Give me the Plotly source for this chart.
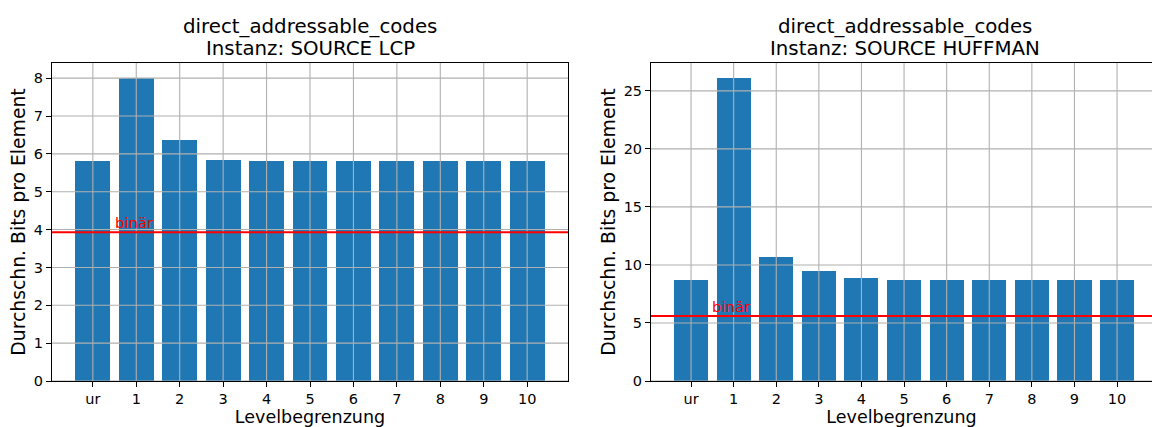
import plotly.graph_objects as go

categories = ["ur", "1", "2", "3", "4", "5", "6", "7", "8", "9", "10"]
lcp_values = [5.81, 8.0, 6.36, 5.84, 5.81, 5.81, 5.81, 5.81, 5.81, 5.81, 5.81]
huffman_values = [8.72, 26.15, 10.70, 9.50, 8.90, 8.72, 8.72, 8.72, 8.72, 8.72, 8.72]
lcp_binary = 3.93
huffman_binary = 5.6
title_line1 = ["direct_addressable_codes", "direct_addressable_codes"]
title_line2 = ["Instanz: SOURCE LCP", "Instanz: SOURCE HUFFMAN"]
lcp_yticks = [0, 1, 2, 3, 4, 5, 6, 7, 8]
huffman_yticks = [0, 5, 10, 15, 20, 25]
xlabel = "Levelbegrenzung"
ylabel = "Durchschn. Bits pro Element"
binary_label = "binär"

W, H = 1152, 427
FONT = "DejaVu Sans"
BAR = "#1f77b4"
GRID = "#b0b0b0"

panels = [
    dict(vals=lcp_values, binv=lcp_binary, yticks=lcp_yticks, yr=[0, 8.4],
         xd=[52 / W, 568 / W], xr=[-0.94, 10.94], mirror_y=True, tc=(52 + 568) / 2 / W),
    dict(vals=huffman_values, binv=huffman_binary, yticks=huffman_yticks, yr=[0, 27.4],
         xd=[651 / W, 1.0], xr=[-0.94, 10.82], mirror_y=False, tc=(651 + 1158) / 2 / W),
]
yd = [(H - 381) / H, (H - 63) / H]

fig = go.Figure()
shapes = []
annotations = []
for i, p in enumerate(panels):
    n = "" if i == 0 else str(i + 1)
    xa = "x" + n
    ya = "y" + n
    fig.add_trace(go.Bar(x=categories, y=p["vals"], marker=dict(color=BAR, line=dict(width=0)),
                         width=0.8, xaxis=xa, yaxis=ya, showlegend=False))
    axis_common = dict(showgrid=False, zeroline=False, showline=True, linecolor="black",
                       linewidth=1, ticks="outside", ticklen=5, tickwidth=1, tickcolor="black",
                       tickfont=dict(family=FONT, size=14.5, color="black"))
    fig.update_layout(**{
        ("xaxis" + n): dict(domain=p["xd"], range=p["xr"], type="category", anchor=ya,
                            mirror=True, title=dict(text=xlabel, font=dict(family=FONT, size=17.5, color="black"), standoff=2),
                            automargin=False, **axis_common),
        ("yaxis" + n): dict(domain=yd, range=p["yr"], anchor=xa, tickvals=p["yticks"],
                            mirror=p["mirror_y"],
                            title=dict(text=ylabel, font=dict(family=FONT, size=18.8, color="black"), standoff=3),
                            automargin=False, **axis_common),
    })
    # grid lines drawn over bars (matplotlib style)
    for c in categories:
        shapes.append(dict(type="line", xref=xa, yref=ya + " domain", x0=c, x1=c, y0=0, y1=1,
                           line=dict(color=GRID, width=1.1), layer="above"))
    for t in p["yticks"]:
        shapes.append(dict(type="line", xref=xa + " domain", yref=ya, x0=0, x1=1, y0=t, y1=t,
                           line=dict(color=GRID, width=1.1), layer="above"))
    shapes.append(dict(type="line", xref=xa + " domain", yref=ya, x0=0, x1=1, y0=p["binv"], y1=p["binv"],
                       line=dict(color="red", width=2), layer="above"))
    annotations.append(dict(x=0.5, y=p["binv"], xref=xa, yref=ya, text=binary_label, showarrow=False,
                            xanchor="left", yanchor="bottom", yshift=-1, xshift=-2,
                            font=dict(family=FONT, size=14.8, color="red")))
    annotations.append(dict(x=p["tc"], y=yd[1], xref="paper", yref="paper",
                            text=title_line2[i], showarrow=False, xanchor="center", yanchor="bottom", yshift=1,
                            font=dict(family=FONT, size=19.8, color="black")))
    annotations.append(dict(x=p["tc"], y=yd[1], xref="paper", yref="paper",
                            text=title_line1[i], showarrow=False, xanchor="center", yanchor="bottom", yshift=23,
                            font=dict(family=FONT, size=19.8, color="black")))

fig.update_layout(width=W, height=H, margin=dict(l=0, r=0, t=0, b=0),
                  paper_bgcolor="white", plot_bgcolor="white", shapes=shapes,
                  annotations=annotations, bargap=0, font=dict(family=FONT))
fig.write_html("out.html")
